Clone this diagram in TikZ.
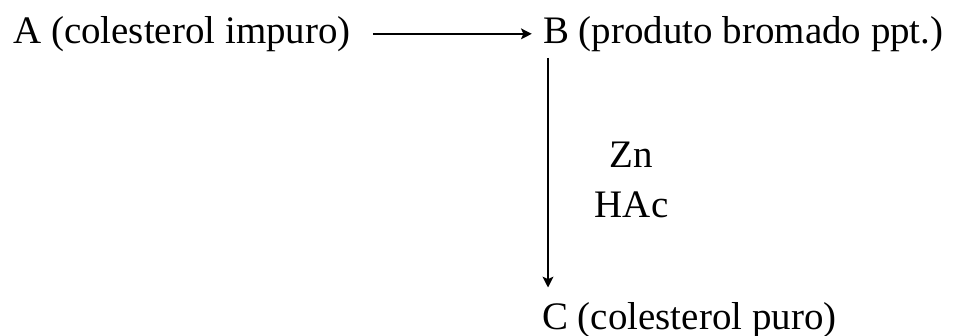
\documentclass[tikz,border=0pt]{standalone}
\usepackage{fontspec}
\setmainfont{Liberation Serif}
\usepackage{tikz}
\usetikzlibrary{arrows.meta, positioning}

\begin{document}
\begin{tikzpicture}[
        every node/.style={font=\fontsize{27.7}{34}\selectfont, inner sep=0pt},
        compound/.style={anchor=base west},
        reaction/.style={line width=1.2pt, -{Stealth[length=2.7mm, width=2.7mm, inset=0.6mm]}}
      ]
      \useasboundingbox (0,0) rectangle (24.1,8.4);

      % Compounds
      \node[compound] (A) at (0.325, 7.32) {A (colesterol impuro)};
      \node[compound] (B) at (13.575, 7.32) {B (produto bromado ppt.)};
      \node[compound] (C) at (13.55, 0.16) {C (colesterol puro)};

      % Arrows
      \draw[reaction] ([xshift=0.55cm]A.east) -- ([xshift=-0.28cm]B.west);

      \coordinate (Bdown) at ([xshift=0.125cm, yshift=-0.15cm]B.south west);
      \draw[reaction, shorten >=0.37cm] (Bdown) -- node[midway, right=1.15cm, align=center] (reagents) {Zn\\[0.07cm]HAc} (Bdown |- C.north);
  \end{tikzpicture}
\end{document}
